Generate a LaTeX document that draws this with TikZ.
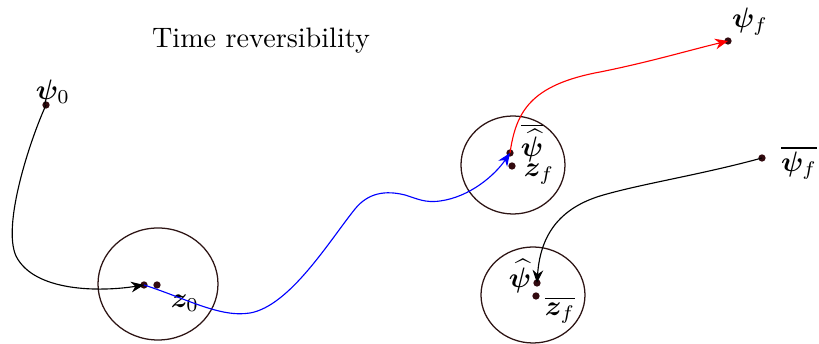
\documentclass[tikz,border=0pt]{standalone}
\usepackage{amsmath,bm}
\usetikzlibrary{arrows.meta}
\definecolor{dotc}{RGB}{50,10,15}
\definecolor{circc}{RGB}{45,20,20}
\begin{document}
\begin{tikzpicture}[x=0.355pt,y=-0.355pt,
  pt/.style={circle,fill=dotc,inner sep=0pt,minimum size=2.6pt},
  ball/.style={draw=circc,line width=0.45pt},
  lab/.style={inner sep=0pt},
  conn/.style={line width=0.4pt,-{Stealth[length=4.6pt,width=3.8pt]}}]
\useasboundingbox (0,0) rectangle (819,344);
\node[lab] (title) at (261,41) {Time reversibility};
% balls
\draw[ball] (158,284) ellipse [x radius=60, y radius=56];
\draw[ball] (513,165) ellipse [x radius=52, y radius=49];
\draw[ball] (533,295) ellipse [x radius=52, y radius=48];
% points
\node[pt] (psi0) at (46,105) {};
\node[pt] (a0) at (144,285) {};
\node[pt] (z0) at (157,285) {};
\node[pt] (psihb) at (510,153) {};
\node[pt] (zf) at (512,166) {};
\node[pt] (psif) at (728,41) {};
\node[pt] (psifb) at (762,158) {};
\node[pt] (psih) at (537,283) {};
\node[pt] (zfb) at (536,296) {};
% labels
\node[lab] (lpsi0) at (53,92) {$\bm{\psi}_0$};
\node[lab] (lz0) at (185,303) {$\bm{z}_0$};
\node[lab] (lpsihb) at (532,143) {$\overline{\widehat{\bm{\psi}}}$};
\node[lab] (lzf) at (539,174) {$\bm{z}_f$};
\node[lab] (lpsif) at (750,22) {$\bm{\psi}_f$};
\node[lab] (lpsifb) at (799,163) {$\overline{\bm{\psi}_f}$};
\node[lab] (lpsih) at (520,276) {$\widehat{\bm{\psi}}$};
\node[lab] (lzfb) at (560,310) {$\overline{\bm{z}_f}$};
% connectors
\draw[conn,black] (psi0.center) .. controls (30,140) and (2,225) .. (16,256)
   .. controls (34,292) and (100,292) .. (a0.center);
\draw[conn,blue] (a0.center) .. controls (185,298) and (220,318) .. (250,313)
   .. controls (290,306) and (330,240) .. (355,209)
   .. controls (368,193) and (385,190) .. (405,195)
   .. controls (418,199) and (425,203) .. (440,201)
   .. controls (470,197) and (495,175) .. (psihb.center);
\draw[conn,red] (psihb.center) .. controls (516,112) and (530,85) .. (600,72)
   .. controls (650,62) and (690,50) .. (psif.center);
\draw[conn,black] (psifb.center) .. controls (700,175) and (640,184) .. (600,196)
   .. controls (555,210) and (540,240) .. (psih.center);
\end{tikzpicture}
\end{document}
